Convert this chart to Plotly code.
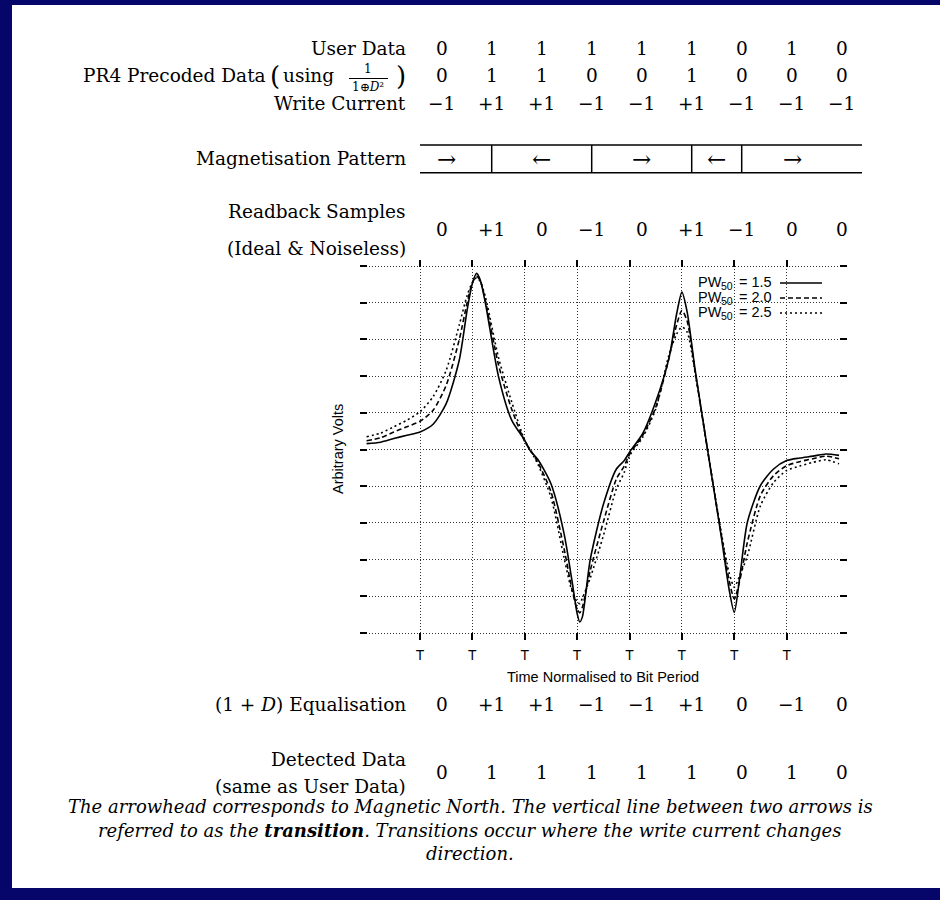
import plotly.graph_objects as go

W, H = 940, 900

# ---------------- data ----------------
t = [-1.02, -0.75, -0.5, -0.25, 0.0, 0.25, 0.5, 0.75, 0.9, 1.0, 1.08, 1.15, 1.25, 1.5, 1.75,
     2.0, 2.1, 2.25, 2.5, 2.75, 2.9, 3.0, 3.05, 3.1, 3.25, 3.5, 3.75, 3.9, 4.0, 4.25, 4.5,
     4.75, 4.9, 5.0, 5.1, 5.25, 5.5, 5.75, 5.9, 6.0, 6.1, 6.25, 6.5, 6.75, 7.0, 7.25, 7.5,
     7.75, 8.0]
pw15 = [0.16, 0.20, 0.30, 0.39, 0.48, 0.69, 1.25, 2.44, 3.8, 4.53, 4.8, 4.62, 3.98, 1.98, 0.8,
        0.25, -0.02, -0.27, -0.93, -2.29, -3.56, -4.47, -4.7, -4.56, -3.0, -1.5, -0.53, -0.3,
        -0.07, 0.43, 1.3, 2.47, 3.7, 4.29, 3.75, 2.2, -0.1, -2.35, -3.8, -4.44, -3.53, -1.98,
        -0.98, -0.53, -0.3, -0.23, -0.18, -0.12, -0.16]
pw20 = [0.24, 0.32, 0.48, 0.62, 0.77, 1.07, 1.75, 3.0, 4.0, 4.55, 4.72, 4.6, 4.05, 2.3, 1.1,
        0.22, 0.0, -0.35, -1.15, -2.7, -3.8, -4.35, -4.45, -4.3, -3.3, -1.98, -0.8, -0.45,
        -0.12, 0.38, 1.15, 2.47, 3.4, 3.79, 3.5, 2.15, -0.1, -2.3, -3.55, -4.07, -3.6, -2.53,
        -1.25, -0.71, -0.44, -0.33, -0.25, -0.18, -0.25]
pw25 = [0.35, 0.45, 0.62, 0.8, 1.03, 1.44, 2.16, 3.4, 4.2, 4.55, 4.68, 4.58, 4.15, 2.5, 1.3,
        0.25, 0.0, -0.4, -1.3, -2.95, -3.85, -4.15, -4.2, -4.05, -3.5, -2.35, -1.07, -0.62,
        -0.17, 0.33, 1.1, 2.56, 3.15, 3.34, 3.2, 2.1, -0.1, -2.25, -3.35, -3.75, -3.45, -2.9,
        -1.53, -0.9, -0.57, -0.45, -0.35, -0.28, -0.39]
pw_labels = ["1.5", "2.0", "2.5"]

sample_ticks = [0, 1, 2, 3, 4, 5, 6, 7]
sample_tick_text = ["T"] * 8
volt_ticks = [-5, -4, -3, -2, -1, 0, 1, 2, 3, 4, 5]

user_data = [0, 1, 1, 1, 1, 1, 0, 1, 0]
precoded = [0, 1, 1, 0, 0, 1, 0, 0, 0]
write_current = [-1, 1, 1, -1, -1, 1, -1, -1, -1]
readback = [0, 1, 0, -1, 0, 1, -1, 0, 0]
equalised = [0, 1, 1, -1, -1, 1, 0, -1, 0]
detected = [0, 1, 1, 1, 1, 1, 0, 1, 0]

# ---------------- helpers ----------------
SERIF = "DejaVu Serif"
SANS = "Liberation Sans, Arial, sans-serif"
NAVY = "#05056a"


def px(x):
    return x / W


def py(y):
    return 1 - y / H


def col_x(k):
    return 441.7 + 50.0 * k


def signed(v):
    if v > 0:
        return "+%d" % v
    if v < 0:
        return "\u2212%d" % (-v)
    return "0"


annotations = []
shapes = []


def text(x, y, s, size=18.5, anchor="center", family=SERIF, angle=0):
    annotations.append(dict(x=px(x), y=py(y), xref="paper", yref="paper", text=s,
                            showarrow=False, xanchor=anchor, yanchor="middle",
                            textangle=angle,
                            font=dict(family=family, size=size, color="black")))


def line(x0, y0, x1, y1, width=1.5, dash="solid", layer="above"):
    shapes.append(dict(type="line", xref="paper", yref="paper", x0=px(x0), y0=py(y0),
                       x1=px(x1), y1=py(y1), layer=layer,
                       line=dict(color="black", width=width, dash=dash)))


# page background
shapes.append(dict(type="rect", xref="paper", yref="paper", x0=px(12), x1=px(940),
                   y0=py(5), y1=py(888), fillcolor="white", line=dict(width=0), layer="below"))

LABEL_R = 408

# ---------------- upper rows ----------------
text(LABEL_R, 49, "User Data", anchor="right")
for k, v in enumerate(user_data):
    text(col_x(k), 49, str(v))

text(268, 76, "PR4 Precoded Data", anchor="right")
text(275, 76, "(", size=26)
text(281, 76, "using", anchor="left")
text(368, 69, "1", size=12)
line(349, 78.5, 388, 78.5, width=1)
text(368, 87, "1\u2295<i>D</i>\u00b2", size=12)
text(408, 76, ")", size=26, anchor="right")
for k, v in enumerate(precoded):
    text(col_x(k), 76, str(v))

text(LABEL_R, 103, "Write Current", anchor="right")
for k, v in enumerate(write_current):
    text(col_x(k), 103, signed(v))

# magnetisation pattern
text(LABEL_R, 158, "Magnetisation Pattern", anchor="right")
box_l, box_r, box_t, box_b = 420, 862, 145, 172.7
line(box_l, box_t, box_r, box_t)
line(box_l, box_b, box_r, box_b)
dividers = [k for k in range(1, len(write_current)) if write_current[k] != write_current[k - 1]]
for k in dividers:
    line(col_x(k), box_t, col_x(k), box_b)
seg_starts = [0] + dividers
seg_ends = dividers + [len(write_current)]
for i, (s, e) in enumerate(zip(seg_starts, seg_ends)):
    if i == 0:
        xm = col_x(s) + 5
    elif i == len(seg_starts) - 1:
        xm = col_x(s) + 51
    else:
        xm = (col_x(s) + col_x(e)) / 2
    arrow = "\u2192" if write_current[s] < 0 else "\u2190"
    text(xm, 159, arrow, size=23)

# readback samples
text(LABEL_R, 212, "Readback Samples", anchor="right")
text(LABEL_R, 248, "(Ideal &amp; Noiseless)", anchor="right")
for k, v in enumerate(readback):
    text(col_x(k), 229, signed(v))

# ---------------- lower rows ----------------
text(LABEL_R, 704, "(1 + <i>D</i>) Equalisation", anchor="right")
for k, v in enumerate(equalised):
    text(col_x(k), 704, signed(v))

text(LABEL_R, 759, "Detected Data", anchor="right")
text(LABEL_R, 786, "(same as User Data)", anchor="right")
for k, v in enumerate(detected):
    text(col_x(k), 772, str(v))

text(470, 806, "<i>The arrowhead corresponds to Magnetic North. The vertical line between two arrows is</i>", size=18)
text(470, 830, "<i>referred to as the <b>transition</b>. Transitions occur where the write current changes</i>", size=18)
text(470, 853, "<i>direction.</i>", size=18)

# ---------------- chart ----------------
fig = go.Figure()
dashes = ["solid", "5px,3px", "2px,3px"]
for vals, lab, dash in zip([pw15, pw20, pw25], pw_labels, dashes):
    fig.add_trace(go.Scatter(x=t, y=vals, mode="lines", name="PW50 = " + lab,
                             line=dict(color="black", width=1.6, dash=dash,
                                       shape="spline", smoothing=0.7),
                             showlegend=False, hoverinfo="skip"))

# legend (custom, text left of sample)
shapes.append(dict(type="rect", xref="paper", yref="paper", x0=px(653), x1=px(842),
                   y0=py(268), y1=py(318), fillcolor="white", line=dict(width=0),
                   layer="between"))
for i, (lab, dash) in enumerate(zip(pw_labels, dashes)):
    yy = 282 + 15 * i
    text(724, yy, "PW", size=14.5, anchor="right", family=SANS)
    text(719, yy + 4, "50", size=10.5, anchor="left", family=SANS)
    text(737, yy, "= " + lab, size=14.5, anchor="left", family=SANS)
    line(780, yy + 1, 822, yy + 1, width=1.3, dash=dash)

text(603, 677, "Time Normalised to Bit Period", size=14.5, family=SANS)
text(338, 449, "Arbitrary Volts", size=14.5, family=SANS, angle=-90)

axis_common = dict(showline=False, zeroline=False, showgrid=True, gridcolor="#333333",
                   griddash="1px,2px", gridwidth=1, ticks="inside", ticklen=7, tickwidth=2,
                   tickcolor="black", mirror="ticks", fixedrange=True)
fig.update_xaxes(domain=[px(360), px(847)], range=[-1.1455, 8.152],
                 tickvals=sample_ticks, ticktext=sample_tick_text,
                 tickfont=dict(family=SANS, size=14, color="black"),
                 ticklabelstandoff=5, **axis_common)
fig.update_yaxes(domain=[py(640), py(260)], range=[-5.19, 5.165],
                 tickvals=volt_ticks, showticklabels=False, **axis_common)

fig.update_layout(width=W, height=H, margin=dict(l=0, r=0, t=0, b=0, pad=0),
                  paper_bgcolor=NAVY, plot_bgcolor="rgba(0,0,0,0)",
                  annotations=annotations, shapes=shapes, showlegend=False)

fig.write_html("out.html")
